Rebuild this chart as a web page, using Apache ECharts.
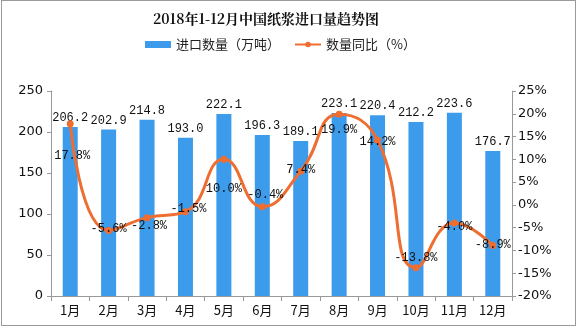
<!DOCTYPE html>
<html><head><meta charset="utf-8">
<script src="https://cdn.jsdelivr.net/npm/echarts@6/dist/echarts.min.js"></script>
<style>html,body{margin:0;padding:0;background:#fff}#c{width:577px;height:327px;box-sizing:border-box;border:1px solid #9a9a9a;margin-left:1px;width:575px;height:326px}</style>
</head><body><div id="c"></div>
<script>
var categories = ['1月','2月','3月','4月','5月','6月','7月','8月','9月','10月','11月','12月'];
var importVolume = [206.2, 202.9, 214.8, 193.0, 222.1, 196.3, 189.1, 223.1, 220.4, 212.2, 223.6, 176.7];
var yoyGrowth = [17.8, -5.6, -2.8, -1.5, 10.0, -0.4, 7.4, 19.9, 14.2, -13.8, -4.0, -8.9];
var leftTicks = [0, 50, 100, 150, 200, 250];
var rightTicks = [-20, -15, -10, -5, 0, 5, 10, 15, 20, 25];

var lineLabelOffsets = [[2,32],[0,-2],[2,8],[3,-3],[0,29],[3,-12],[0,-1],[0,16],[0,2],[0,-10],[0,4],[0,-1]];
var cn = '"Noto Sans CJK SC", sans-serif';
var mono = '"Liberation Mono", "DejaVu Sans Mono", monospace';
var chart = echarts.init(document.getElementById('c'));
chart.setOption({
  animation: false,
  title: { text: '2018年1-12月中国纸浆进口量趋势图', left: 146, top: 6,
    textStyle: { fontSize: 14, fontWeight: 'bold', color: '#111', fontFamily: '"Noto Serif CJK SC", "Noto Sans CJK SC", serif' } },
  legend: { top: 32, left: 138, itemGap: 14, itemWidth: 26, itemHeight: 7,
    textStyle: { fontSize: 13, color: '#222', fontFamily: cn },
    data: [{name: '进口数量（万吨）', icon: 'rect'}, {name: '数量同比（%）'}] },
  grid: { left: 49, right: 63, top: 90, bottom: 29 },
  xAxis: { type: 'category', data: categories,
    axisLine: { lineStyle: { color: '#999' } },
    axisTick: { show: true, alignWithLabel: false, length: 5, lineStyle: { color: '#999' } },
    axisLabel: { color: '#111', fontSize: 13, fontFamily: cn, margin: 8 } },
  yAxis: [
    { type: 'value', min: leftTicks[0], max: leftTicks[leftTicks.length-1], interval: 50,
      axisLine: { show: true, lineStyle: { color: '#999' } },
      axisTick: { show: true, length: 4, lineStyle: { color: '#999' } },
      splitLine: { show: false },
      axisLabel: { color: '#111', fontSize: 13, fontFamily: '"DejaVu Sans", sans-serif', margin: 8 } },
    { type: 'value', min: rightTicks[0], max: rightTicks[rightTicks.length-1], interval: 5,
      axisLine: { show: true, lineStyle: { color: '#999' } },
      axisTick: { show: true, length: 4, lineStyle: { color: '#999' } },
      splitLine: { show: false },
      axisLabel: { color: '#111', fontSize: 13, fontFamily: '"DejaVu Sans", sans-serif', margin: 6, formatter: '{value}%' } }
  ],
  series: [
    { name: '进口数量（万吨）', type: 'bar', data: importVolume, barWidth: 15,
      itemStyle: { color: '#3D9BEB' },
      label: { show: true, position: 'top', distance: 3, color: '#111', fontSize: 12, fontFamily: mono,
        formatter: function(p){ return p.value.toFixed(1); } } },
    { name: '数量同比（%）', type: 'line', yAxisIndex: 1, smooth: 0.5, data: yoyGrowth.map(function(v,i){
        return { value: v, label: { offset: lineLabelOffsets[i] } };
      }),
      symbol: 'circle', symbolSize: 7,
      lineStyle: { color: '#EE6E32', width: 3 },
      itemStyle: { color: '#EE6E32' },
      label: { show: true, position: 'inside', color: '#111', fontSize: 12, fontFamily: mono,
        formatter: function(p){ return p.value.toFixed(1) + '%'; } } }
  ]
});
</script></body></html>
